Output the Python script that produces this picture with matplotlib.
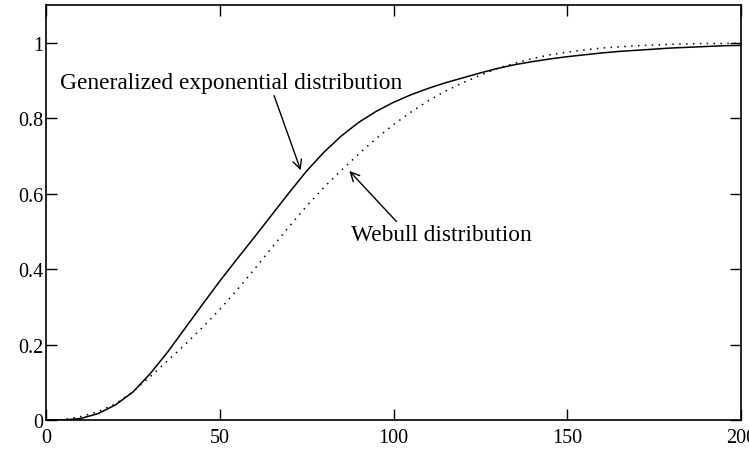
import matplotlib
matplotlib.use("Agg")
import matplotlib.pyplot as plt
from matplotlib.ticker import FuncFormatter

plt.rcParams['font.family'] = ['Liberation Serif', 'DejaVu Serif']

# sample points along x
x = [0, 5, 10, 15, 20, 25, 30, 35, 40, 45, 50, 55, 60, 65, 70, 75, 80, 85, 90,
     95, 100, 105, 110, 115, 120, 125, 130, 135, 140, 145, 150, 155, 160, 165,
     170, 175, 180, 185, 190, 195, 200]

# generalized exponential cdf (solid)
ge_cdf = [0.0, 0.0, 0.004, 0.017, 0.040, 0.074, 0.123, 0.180, 0.243, 0.306,
          0.368, 0.427, 0.485, 0.544, 0.603, 0.660, 0.710, 0.753, 0.789, 0.818,
          0.842, 0.862, 0.879, 0.894, 0.907, 0.920, 0.932, 0.942, 0.950, 0.957,
          0.963, 0.968, 0.973, 0.977, 0.980, 0.983, 0.986, 0.988, 0.990, 0.992,
          0.993]

# weibull cdf (dotted)
wb_cdf = [0.0, 0.001, 0.009, 0.022, 0.043, 0.075, 0.115, 0.157, 0.200, 0.245,
          0.293, 0.345, 0.400, 0.457, 0.513, 0.567, 0.617, 0.662, 0.705, 0.746,
          0.783, 0.816, 0.846, 0.872, 0.894, 0.914, 0.932, 0.946, 0.958, 0.968,
          0.975, 0.981, 0.986, 0.989, 0.992, 0.994, 0.996, 0.997, 0.998, 0.998,
          0.999]

xticks = [0, 50, 100, 150, 200]
yticks = [0, 0.2, 0.4, 0.6, 0.8, 1.0]

fig = plt.figure(figsize=(7.49, 4.52), dpi=100)
ax = fig.add_axes([46/749, 31/452, 695/749, 415/452])

ax.plot(x, ge_cdf, color='black', lw=1.1)
ax.plot(x, wb_cdf, color='black', lw=1.1, linestyle=(0, (1, 3.5)))

ax.set_xlim(0, 200)
ax.set_ylim(0, 1.1)
ax.set_xticks(xticks)
ax.set_yticks(yticks)
ax.yaxis.set_major_formatter(FuncFormatter(lambda v, p: f'{v:g}'))
ax.tick_params(direction='in', length=8, width=1, top=True, right=True,
               labelsize=14.5)
ax.tick_params(axis='x', pad=6)
ax.tick_params(axis='y', pad=2)
for s in ax.spines.values():
    s.set_linewidth(1.2)

ax.annotate('Generalized exponential distribution', xy=(73.3, 0.662),
            xytext=(4, 0.895), fontsize=16.8, va='center', ha='left',
            arrowprops=dict(arrowstyle='->', lw=1, color='black',
                            shrinkA=0, shrinkB=0, relpos=(0.623, 0.0),
                            mutation_scale=16))
ax.annotate('Webull distribution', xy=(87.3, 0.66),
            xytext=(87.7, 0.491), fontsize=16.8, va='center', ha='left',
            arrowprops=dict(arrowstyle='->', lw=1, color='black',
                            shrinkA=0, shrinkB=0, relpos=(0.267, 1.0),
                            mutation_scale=16))

fig.savefig('out.png', dpi=100)
